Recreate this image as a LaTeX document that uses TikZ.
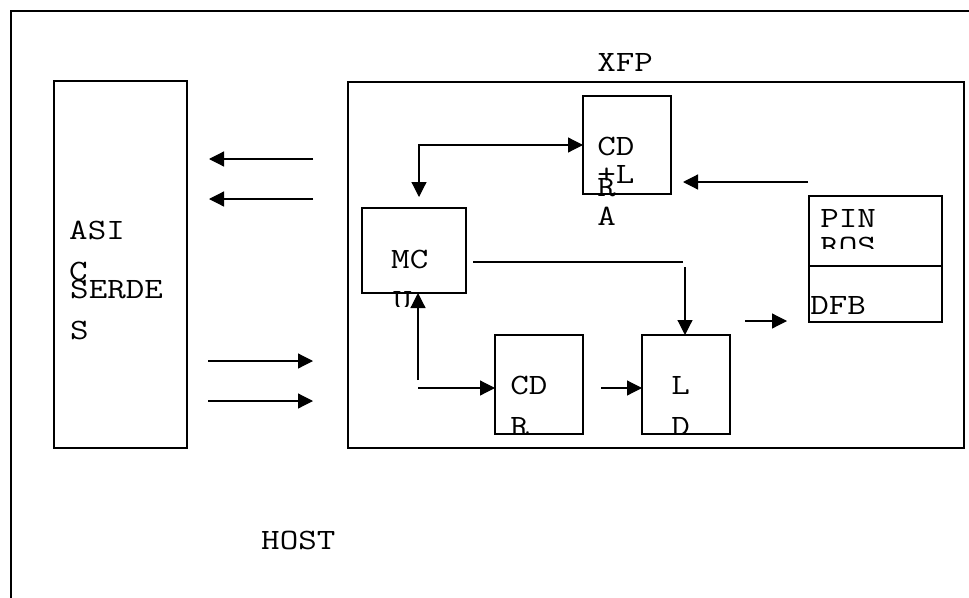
\documentclass[tikz,border=0pt]{standalone}
\usepackage{fontspec}
\usetikzlibrary{arrows.meta}

\begin{document}
\begin{tikzpicture}[x=1pt,y=-1pt,
  box/.style={draw,line width=1.2pt,inner sep=0pt,outer sep=0pt,anchor=north west},
  lbl/.style={anchor=base west,inner sep=0pt,xscale=1.22,font=\ttfamily\fontsize{29.5}{30}\selectfont},
  wire/.style={line width=1.2pt},
  arr/.style={wire,-{Triangle[length=15pt,width=15pt]}},
  twoarr/.style={wire,{Triangle[length=15pt,width=15pt]}-{Triangle[length=15pt,width=15pt]}}]
\useasboundingbox (0,0) rectangle (969,597);
% host frame, runs off the page
\node[box,minimum width=990,minimum height=610] (host) at (11,11) {};
% blocks
\node[box,minimum width=133,minimum height=367] (asic) at (54,81) {};
\node[box,minimum width=616,minimum height=366] (xfp) at (348,82) {};
\node[box,minimum width=88,minimum height=98] (cdra) at (583,96) {};
\node[box,minimum width=104,minimum height=85] (mcu) at (362,208) {};
\node[box,minimum width=88,minimum height=99] (cdr) at (495,335) {};
\node[box,minimum width=88,minimum height=99] (ld) at (642,335) {};
\node[box,minimum width=133,minimum height=70] (pinros) at (809,196) {};
\node[box,minimum width=133,minimum height=56] (dfb) at (809,266) {};
% labels
\node[lbl] (xfplbl) at (597,71) {XFP};
\node[lbl] (hostlbl) at (261,549) {HOST};
\node[lbl] (asica) at (69,239) {ASI};
\node[lbl] (asicb) at (69,280) {C};
\node[lbl] (serdesa) at (70,298) {SERDE};
\node[lbl] (serdesb) at (70,339) {S};
\node[lbl] (cdraa) at (597,155) {CD};
\node[lbl] (cdrab) at (597,183) {+L};
\node[lbl] (cdrac) at (597,196) {R};
\node[lbl] (cdrad) at (597,225) {A};
\node[lbl] (mcua) at (391,268) {MC};
\node[lbl] (cdra1) at (510,394) {CD};
\node[lbl] (lda) at (671,394) {L};
\node[lbl] (pina) at (820,227) {PIN};
\node[lbl] (dfba) at (810,314) {DFB};
% labels cut by their frames
\begin{scope}
\clip (362,280) rectangle (470,306);
\node[lbl] (mcub) at (393,309) {U};
\end{scope}
\begin{scope}
\clip (480,400) rectangle (740,434);
\node[lbl] (cdr2) at (510,435) {R};
\node[lbl] (ldb) at (671,435) {D};
\end{scope}
\begin{scope}
\clip (809,230) rectangle (942,248);
\node[lbl] (pinb) at (820,255) {ROS};
\end{scope}
% free ends of the links
\coordinate (rxa) at (313,159); \coordinate (rxa') at (209,159);
\coordinate (rxb) at (313,199); \coordinate (rxb') at (209,199);
\coordinate (txa) at (208,361); \coordinate (txa') at (313,361);
\coordinate (txb) at (208,401); \coordinate (txb') at (313,401);
\coordinate (mcutop) at (419,197);
\coordinate (mon) at (808,182); \coordinate (mon') at (683,182);
\coordinate (bias) at (473,262); \coordinate (bias') at (683,262);
\coordinate (biasdn) at (685,267);
\coordinate (mcuin) at (418,380);
\coordinate (cdrin) at (418,388);
\coordinate (ldin) at (601,388);
\coordinate (opt) at (745,321); \coordinate (opt') at (787,321);
% host links
\draw[arr] (rxa) -- (rxa');
\draw[arr] (rxb) -- (rxb');
\draw[arr] (txa) -- (txa');
\draw[arr] (txb) -- (txb');
% module links
\draw[twoarr] (cdra.west) -| (mcutop);
\draw[arr] (mon) -- (mon');
\draw[wire] (bias) -- (bias');
\draw[arr] (biasdn) -- (biasdn |- ld.north);
\draw[arr] (mcuin) -- (mcuin |- mcu.south);
\draw[arr] (cdrin) -- (cdrin -| cdr.west);
\draw[arr] (ldin) -- (ldin -| ld.west);
\draw[arr] (opt) -- (opt');
\end{tikzpicture}
\end{document}
